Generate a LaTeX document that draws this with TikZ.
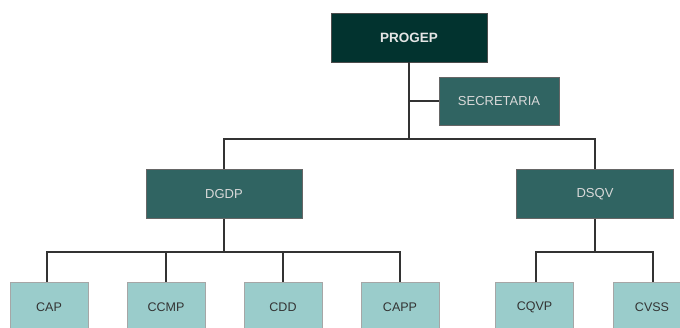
\documentclass[tikz,border=0pt]{standalone}
\usepackage{fontspec}
\setmainfont{Liberation Sans}
\definecolor{topc}{HTML}{02332F}
\definecolor{midc}{HTML}{306462}
\definecolor{lowc}{HTML}{9ACCCB}
\definecolor{linec}{HTML}{333333}
\begin{document}
\begin{tikzpicture}[x=1pt,y=-1pt,
  box/.style={draw=#1,line width=0.8pt,inner sep=0pt,minimum width=156pt,minimum height=49pt},
  topbox/.style={box=black!70,fill=topc,text=white!90!black,font=\fontsize{13.5}{15}\selectfont\bfseries},
  midbox/.style={box=black!60,fill=midc,text=white!85!black,font=\fontsize{13}{15}\selectfont},
  lowbox/.style={box=black!35,fill=lowc,text=black!80,minimum width=78pt,minimum height=50pt,font=\fontsize{12.5}{14}\selectfont},
  conn/.style={draw=linec,line width=1.5pt}]
\useasboundingbox (0,0) rectangle (680,327);
\clip (0,0) rectangle (680,327);
\fill[white] (0,0) rectangle (680,327);
\node[topbox] (progep) at (409,37.5) {PROGEP};
\node[midbox,minimum width=120pt,minimum height=48pt] (sec) at (499,101) {SECRETARIA};
\node[midbox] (dgdp) at (224,194) {DGDP};
\node[midbox,minimum width=157pt] (dsqv) at (595,194) {DSQV};
\node[lowbox] (cap) at (49,307) {CAP};
\node[lowbox] (ccmp) at (166,307) {CCMP};
\node[lowbox] (cdd) at (283,307) {CDD};
\node[lowbox] (capp) at (400,307) {CAPP};
\node[lowbox] (cqvp) at (534.5,307) {CQVP};
\node[lowbox] (cvss) at (652,307) {CVSS};
\coordinate (hub) at (409,139);
\coordinate (secj) at (409,101);
\draw[conn] (progep.south) -- (hub);
\draw[conn] (secj) -- (sec.west);
\draw[conn] (dgdp.north) |- (hub) -| (dsqv.north);
\coordinate (gj) at (224,252);
\coordinate (sj) at (595,252);
\draw[conn] (dgdp.south) -- (gj);
\draw[conn] (cap.north -| 47,0) |- (gj);
\draw[conn] (gj) -| (capp.north);
\draw[conn] (ccmp.north) -- (ccmp.north |- gj);
\draw[conn] (cdd.north) -- (cdd.north |- gj);
\draw[conn] (dsqv.south) -- (sj);
\draw[conn] (cqvp.north -| 536,0) |- (sj) -| (cvss.north -| 653,0);
\end{tikzpicture}
\end{document}
